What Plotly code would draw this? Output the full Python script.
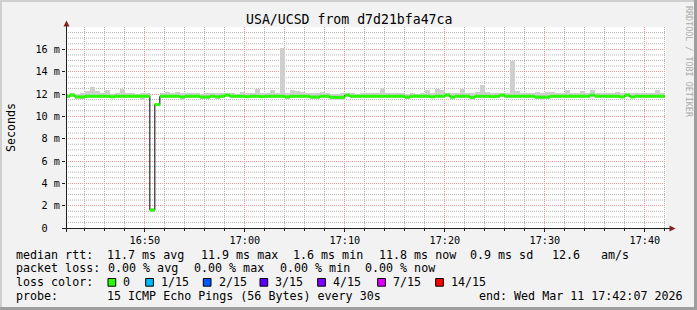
import plotly.graph_objects as go
import pandas as pd

# ---------------- data ----------------
step_start = "2026-03-11 16:42:00"
n_steps = 120
view_start = "2026-03-11 16:42:07"
view_end = "2026-03-11 17:42:07"

median_ms = [
    11.80, 11.90, 11.74, 11.74, 11.80, 11.80, 11.80, 11.80, 11.80, 11.75,
    11.80, 11.80, 11.80, 11.80, 11.80, 11.80, 11.80, 1.60, 11.05, 11.80,
    11.80, 11.80, 11.80, 11.74, 11.80, 11.80, 11.80, 11.73, 11.73, 11.80,
    11.75, 11.80, 11.90, 11.80, 11.80, 11.80, 11.76, 11.80, 11.80, 11.76,
    11.80, 11.80, 11.80, 11.80, 11.74, 11.80, 11.80, 11.80, 11.80, 11.73,
    11.73, 11.80, 11.80, 11.70, 11.70, 11.70, 11.90, 11.80, 11.80, 11.80,
    11.80, 11.80, 11.80, 11.80, 11.80, 11.80, 11.80, 11.80, 11.72, 11.80,
    11.80, 11.80, 11.80, 11.75, 11.80, 11.80, 11.90, 11.73, 11.80, 11.80,
    11.80, 11.70, 11.80, 11.80, 11.80, 11.76, 11.80, 11.90, 11.80, 11.80,
    11.80, 11.80, 11.80, 11.80, 11.72, 11.72, 11.72, 11.80, 11.80, 11.80,
    11.80, 11.80, 11.80, 11.80, 11.80, 11.90, 11.80, 11.80, 11.80, 11.80,
    11.80, 11.74, 11.90, 11.74, 11.80, 11.80, 11.80, 11.80, 11.80, 11.80,
]

smoke_hi_ms = [
    12.00, 12.05, 12.00, 12.05, 12.30, 12.62, 12.28, 12.05, 12.40, 12.00,
    12.05, 12.48, 12.12, 12.05, 12.00, 12.12, 12.05, 1.75, 11.20, 12.05,
    12.15, 12.05, 12.15, 12.05, 12.05, 12.12, 12.05, 12.00, 12.05, 12.05,
    12.10, 12.05, 12.05, 12.05, 12.00, 12.20, 12.05, 12.05, 12.48, 12.05,
    12.05, 12.40, 12.05, 16.10, 12.10, 12.40, 12.30, 12.20, 12.05, 12.05,
    12.05, 12.22, 12.05, 12.00, 12.00, 12.05, 12.05, 12.05, 12.00, 12.05,
    12.10, 12.05, 12.05, 12.52, 12.10, 12.05, 12.05, 12.05, 12.00, 12.05,
    12.00, 12.05, 12.40, 12.05, 12.45, 12.40, 12.05, 12.05, 12.10, 12.45,
    12.05, 12.05, 12.20, 12.78, 12.15, 12.05, 12.05, 12.05, 12.05, 14.95,
    12.30, 12.10, 12.05, 12.05, 12.15, 12.10, 12.15, 12.15, 12.05, 12.05,
    12.40, 12.05, 12.05, 12.30, 12.05, 12.40, 12.05, 12.05, 12.05, 12.05,
    12.15, 12.05, 12.05, 12.05, 12.05, 12.05, 12.05, 12.05, 12.40, 12.05,
]

smoke_lo_ms = [
    11.65, 11.70, 11.55, 11.55, 11.62, 11.62, 11.62, 11.62, 11.62, 11.60,
    11.62, 11.62, 11.62, 11.62, 11.62, 11.42, 11.62, 1.40, 10.90, 11.62,
    11.62, 11.62, 11.62, 11.50, 11.62, 11.62, 11.62, 11.55, 11.55, 11.62,
    11.58, 11.62, 11.70, 11.62, 11.62, 11.62, 11.60, 11.62, 11.62, 11.60,
    11.62, 11.62, 11.62, 11.62, 11.55, 11.62, 11.62, 11.62, 11.62, 11.55,
    11.55, 11.62, 11.62, 11.42, 11.45, 11.50, 11.70, 11.62, 11.62, 11.62,
    11.62, 11.62, 11.62, 11.62, 11.62, 11.62, 11.62, 11.62, 11.55, 11.62,
    11.62, 11.62, 11.62, 11.60, 11.62, 11.62, 11.70, 11.55, 11.62, 11.62,
    11.62, 11.50, 11.62, 11.62, 11.62, 11.60, 11.62, 11.70, 11.62, 11.62,
    11.62, 11.62, 11.62, 11.62, 11.55, 11.50, 11.55, 11.62, 11.62, 11.62,
    11.62, 11.62, 11.62, 11.62, 11.62, 11.70, 11.62, 11.62, 11.62, 11.62,
    11.62, 11.60, 11.70, 11.60, 11.62, 11.62, 11.62, 11.62, 11.62, 11.62,
]

y_tick_vals = [0, 2, 4, 6, 8, 10, 12, 14, 16]
y_tick_text = ["0\u00a0\u00a0", "2 m", "4 m", "6 m", "8 m", "10 m", "12 m", "14 m", "16 m"]
y_minor_vals = [k * 0.5 for k in range(1, 36) if k % 4 != 0]

title_text = "USA/UCSD from d7d21bfa47ca"
legend_rows = [
    [("median rtt:", 15.4), ("11.7 ms avg", 106.0), ("11.9 ms max", 199.7),
     ("1.6 ms min", 292.0), ("11.8 ms now", 378.0), ("0.9 ms sd", 469.0),
     ("12.6", 550.5), ("am/s", 599.5)],
    [("packet loss:", 15.4), ("0.00 % avg", 106.5), ("0.00 % max", 192.5),
     ("0.00 % min", 278.5), ("0.00 % now", 364.3)],
    [("loss color:", 15.4)],
    [("probe:", 15.4), ("15 ICMP Echo Pings (56 Bytes) every 30s", 106.0),
     ("end: Wed Mar 11 17:42:07 2026", 477.7)],
]
legend_row_y = [254.5, 268.2, 281.9, 295.6]
loss_labels = ["0", "1/15", "2/15", "3/15", "4/15", "7/15", "14/15"]
loss_colors = ["#26ff00", "#00b8ff", "#0059ff", "#5e00ff", "#7e00ff", "#dd00ff", "#ff0000"]
loss_box_x = [108.0, 145.7, 203.3, 260.0, 317.7, 377.7, 435.7]

# ---------------- geometry helpers ----------------
W, H = 697, 310
PL, PR, PT, PB = 66, 666, 27, 228
MONO = "DejaVu Sans Mono"


def px(xp):
    return (xp - PL) / (PR - PL)


def py(yp):
    return (PB - yp) / (PB - PT)


starts = pd.date_range(step_start, periods=n_steps, freq="30s")
ends = starts + pd.Timedelta(seconds=30)

fig = go.Figure()

# smoke
fig.add_trace(go.Bar(
    x=starts, y=[h - l for h, l in zip(smoke_hi_ms, smoke_lo_ms)], base=smoke_lo_ms,
    width=30000, offset=0, marker=dict(color="#cfcfcf", line=dict(width=0)),
    hoverinfo="skip", showlegend=False,
))

# black median step line
fig.add_trace(go.Scatter(
    x=list(starts) + [ends[-1]], y=median_ms + [median_ms[-1]],
    mode="lines", line=dict(color="#000000", width=1, shape="hv"),
    hoverinfo="skip", showlegend=False,
))

# green loss-colored median segments
gx, gy = [], []
for s, e, m in zip(starts, ends, median_ms):
    gx += [s, e, None]
    gy += [m, m, None]
fig.add_trace(go.Scatter(
    x=gx, y=gy, mode="lines", line=dict(color=loss_colors[0], width=3),
    hoverinfo="skip", showlegend=False,
))

annotations = []
shapes = []

# minor horizontal grid (drawn under traces)
for v in y_minor_vals:
    shapes.append(dict(type="line", xref="paper", yref="y", x0=0, x1=1, y0=v, y1=v,
                       layer="below", line=dict(color="#b4b4b4", width=1, dash="1px,1px")))

# title
annotations.append(dict(text=title_text, x=px(348.5), y=py(19.5), xref="paper", yref="paper",
                        xanchor="center", yanchor="middle", showarrow=False,
                        font=dict(family=MONO, size=13.2, color="#000")))
# y label
annotations.append(dict(text="Seconds", x=px(11), y=py(128), xref="paper", yref="paper",
                        xanchor="center", yanchor="middle", showarrow=False, textangle=-90,
                        font=dict(family=MONO, size=11.66, color="#000")))
# watermark
annotations.append(dict(text="RRDTOOL / TOBI OETIKER", x=px(689), y=py(4), xref="paper", yref="paper",
                        xanchor="center", yanchor="top", showarrow=False, textangle=90,
                        font=dict(family=MONO, size=8.4, color="#ababab")))

# legend texts
for row, yc in zip(legend_rows, legend_row_y):
    for txt, xl in row:
        annotations.append(dict(text=txt, x=px(xl), y=py(yc), xref="paper", yref="paper",
                                xanchor="left", yanchor="middle", showarrow=False, borderpad=0,
                                font=dict(family=MONO, size=11.66, color="#000")))
for lab, col, bx in zip(loss_labels, loss_colors, loss_box_x):
    shapes.append(dict(type="rect", xref="paper", yref="paper",
                       x0=px(bx), x1=px(bx + 7.7), y0=py(278.5), y1=py(286.2),
                       fillcolor=col, line=dict(color="#000", width=1)))
    annotations.append(dict(text=lab, x=px(bx + 14.3), y=py(legend_row_y[2]), xref="paper", yref="paper",
                            xanchor="left", yanchor="middle", showarrow=False, borderpad=0,
                            font=dict(family=MONO, size=11.66, color="#000")))

# frame shading
for x0, x1, y0, y1, c in [(0, 697, 0, 2, "#cfcfcf"), (0, 2, 0, 310, "#cfcfcf"),
                          (0, 697, 307, 310, "#9e9e9e"), (694, 697, 0, 310, "#9e9e9e")]:
    shapes.append(dict(type="rect", xref="paper", yref="paper", x0=px(x0), x1=px(x1),
                       y0=py(y0), y1=py(y1), fillcolor=c, line=dict(width=0)))

# axes lines and arrows
shapes.append(dict(type="line", xref="paper", yref="paper", x0=px(62), x1=px(670),
                   y0=py(228.5), y1=py(228.5), line=dict(color="#1f1f1f", width=1)))
shapes.append(dict(type="line", xref="paper", yref="paper", x0=px(66.5), x1=px(66.5),
                   y0=py(232), y1=py(26), line=dict(color="#1f1f1f", width=1)))
shapes.append(dict(type="path", xref="paper", yref="paper",
                   path=f"M {px(669.5)} {py(225.5)} L {px(669.5)} {py(231.5)} L {px(675.5)} {py(228.5)} Z",
                   fillcolor="#801f1f", line=dict(width=0)))
shapes.append(dict(type="path", xref="paper", yref="paper",
                   path=f"M {px(63.5)} {py(26.5)} L {px(69.5)} {py(26.5)} L {px(66.5)} {py(20.5)} Z",
                   fillcolor="#801f1f", line=dict(width=0)))

fig.update_layout(
    width=W, height=H, autosize=False,
    margin=dict(l=PL, r=W - PR, t=PT, b=H - PB, pad=0),
    paper_bgcolor="#f2f2f2", plot_bgcolor="#ffffff",
    barmode="overlay", bargap=0, showlegend=False,
    annotations=annotations, shapes=shapes,
    font=dict(family=MONO, size=10.2, color="#000"),
)
fig.update_xaxes(
    type="date", range=[view_start, view_end], dtick=600000, tickformat="%H:%M",
    showgrid=True, gridcolor="#eb9a9a", griddash="1px,1px", gridwidth=1,
    ticks="outside", ticklen=3, tickcolor="#1f1f1f",
    minor=dict(dtick=120000, showgrid=True, gridcolor="#b4b4b4", griddash="1px,1px",
               ticks="outside", ticklen=2, tickcolor="#1f1f1f"),
    showline=False, zeroline=False,
    tickfont=dict(family=MONO, size=10.2, color="#000"),
)
fig.update_yaxes(
    range=[0, 18], tickmode="array", tickvals=y_tick_vals, ticktext=y_tick_text,
    showgrid=True, gridcolor="#eb9a9a", griddash="1px,1px", gridwidth=1,
    ticks="outside", ticklen=3, tickcolor="#1f1f1f",
    showline=False, zeroline=False,
    tickfont=dict(family=MONO, size=10.2, color="#000"),
)

fig.write_html("out.html")
